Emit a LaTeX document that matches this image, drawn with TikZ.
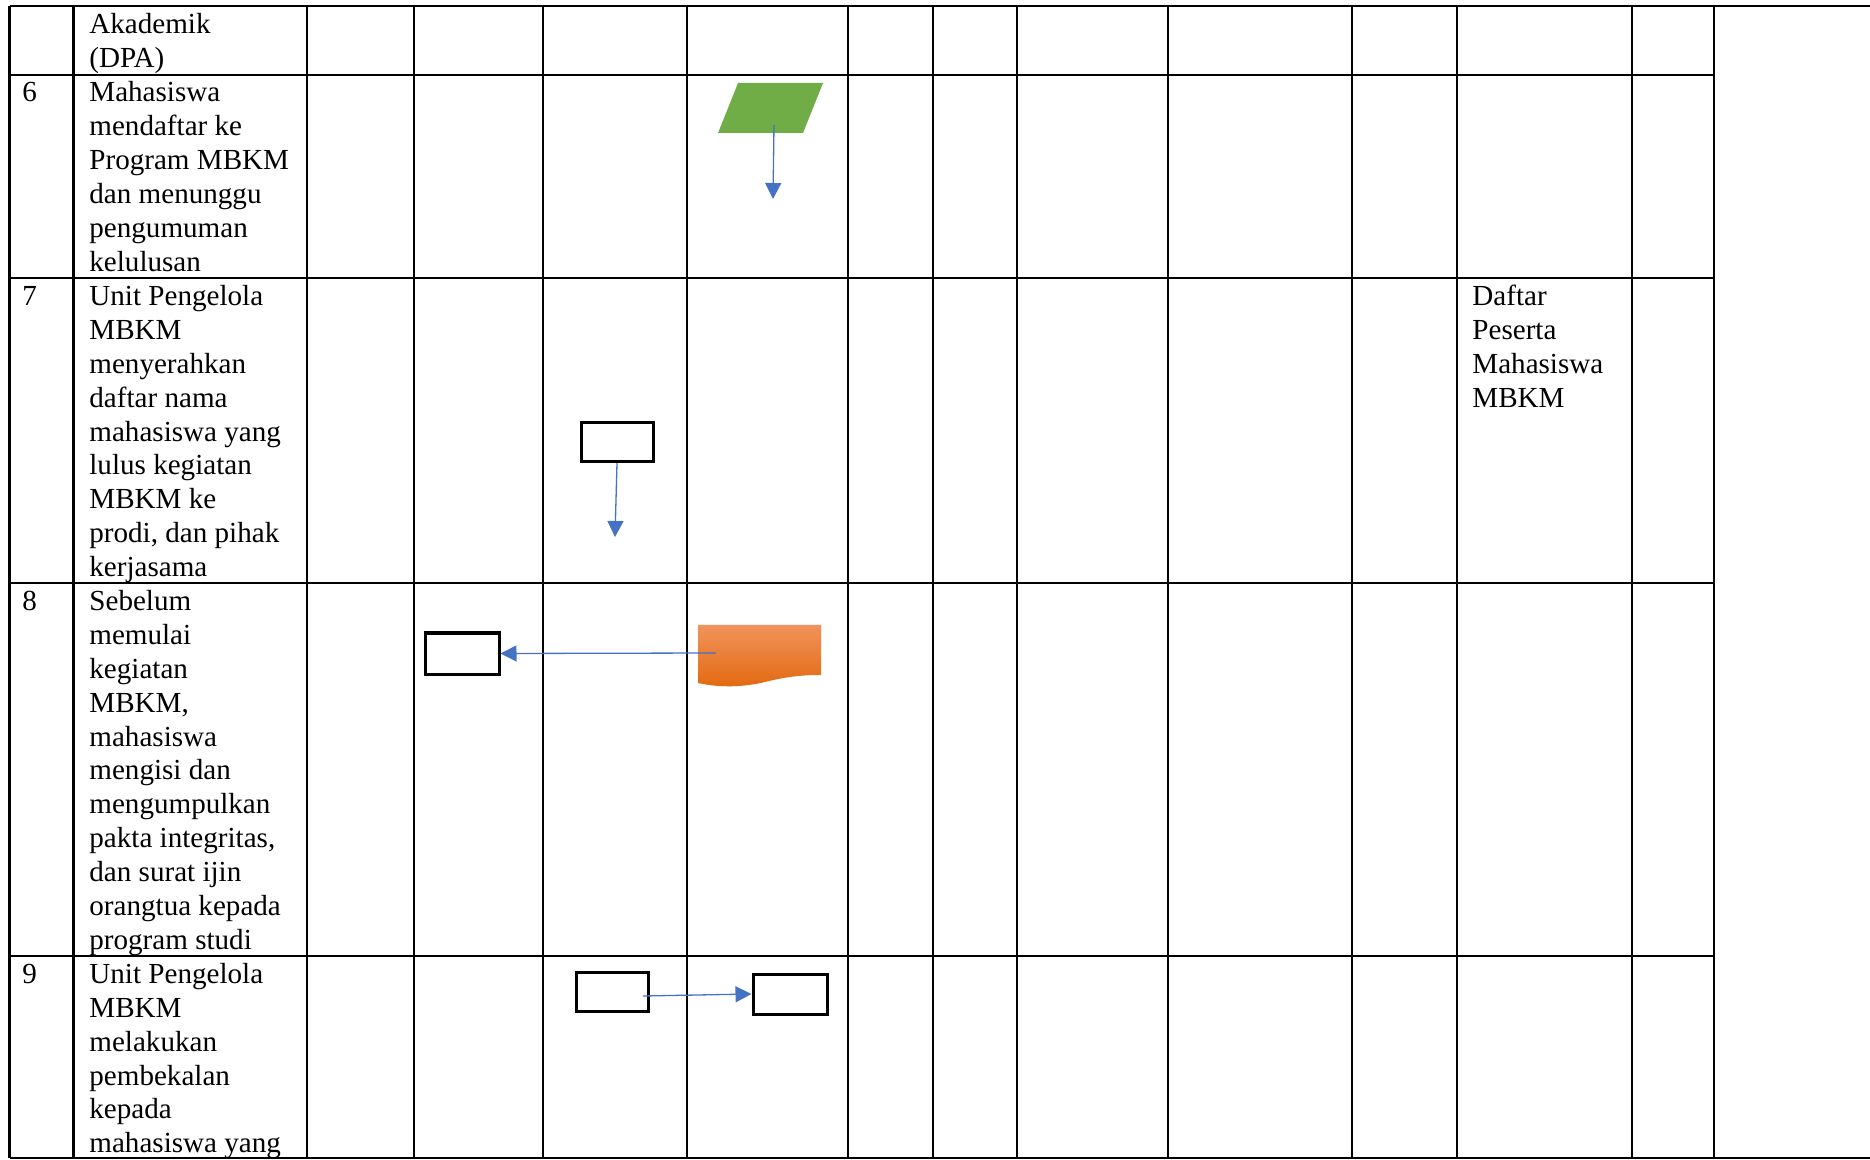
\documentclass[tikz,border=0pt]{standalone}
\usepackage{fontspec}
\setmainfont{Liberation Serif}
\usetikzlibrary{arrows.meta,positioning}
\definecolor{flowblue}{HTML}{4472C4}
\definecolor{inputgreen}{HTML}{70AD47}
\definecolor{doctop}{HTML}{F1935C}
\definecolor{docbottom}{HTML}{E2690F}
\tikzset{
    grid line/.style={
        line width=1.35pt,
        black
    },
    % the base of a multi-line node is its last line
    cell text/.style={
        anchor=base west,
        inner sep=0pt,
        align=left,
        font=\fontsize{14.55}{16.93}\selectfont
    },
    process box/.style={
        draw=black,
        line width=1.5pt,
        inner sep=0pt,
        minimum width=36pt,
        minimum height=19.5pt
    },
    flow/.style={
        flowblue,
        line width=0.65pt,
        -{Triangle[length=8pt,width=8pt]}
    }
}
\begin{document}
\begin{tikzpicture}[x=0.5pt,y=-0.5pt]
    \useasboundingbox (0,0) rectangle (1870,1160);
    % table grid
    \foreach \x in {9.5,73.5,307,414,543,687,848,933,1017,1168,1352,1457,1632,1714}
        \draw[grid line] (\x,6) -- (\x,1158);
    \foreach \y in {75,278,583,956}
        \draw[grid line] (9.5,\y) -- (1714,\y);
    \draw[grid line] (9.5,6) -- (1870,6);
    \draw[grid line] (9.5,1158) -- (1870,1158);
    % row texts
    \node[cell text] (txt5) at (89,67.4) {Akademik\\(DPA)};
    \node[cell text] (no6) at (22,102) {6};
    \node[cell text] (txt6) at (89,271.3) {Mahasiswa\\mendaftar ke\\Program MBKM\\dan menunggu\\pengumuman\\kelulusan};
    \node[cell text] (no7) at (22,305.5) {7};
    \node[cell text] (txt7) at (89,576.5) {Unit Pengelola\\MBKM\\menyerahkan\\daftar nama\\mahasiswa yang\\lulus kegiatan\\MBKM ke\\prodi, dan pihak\\kerjasama};
    \node[cell text] (out7) at (1472,407.1) {Daftar\\Peserta\\Mahasiswa\\MBKM};
    \node[cell text] (no8) at (22,610.5) {8};
    \node[cell text] (txt8) at (89,949.2) {Sebelum\\memulai\\kegiatan\\MBKM,\\mahasiswa\\mengisi dan\\mengumpulkan\\pakta integritas,\\dan surat ijin\\orangtua kepada\\program studi};
    \node[cell text] (no9) at (22,983.5) {9};
    \node[cell text] (txt9) at (89,1152.8) {Unit Pengelola\\MBKM\\melakukan\\pembekalan\\kepada\\mahasiswa yang};
    % flow shapes
    \fill[inputgreen] (738,83) -- (823,83) -- (803,133) -- (718,133) -- cycle;
    \coordinate (input6) at (774,125);
    \coordinate (input6 end) at (773,199);
    \node[process box] (box7) at (617,442) {};
    \coordinate (box7 end) at (615,537);
    \shade[top color=doctop, bottom color=docbottom]
        (698,625) -- (821,625) -- (821,675)
        .. controls (800,675) and (785,677) .. (765,682)
        .. controls (745,687) and (720,688) .. (698,683) -- cycle;
    \coordinate (doc8) at (716,653);
    \node[process box, minimum width=37pt, minimum height=20.5pt] (box8) at (462,653.5) {};
    \node[process box] (box9a) at (612.5,991.5) {};
    \coordinate (box9a out) at (643,996);
    \node[process box, minimum width=37pt, minimum height=20pt] (box9b) at (790,994) {};
    % connectors
    \draw[flow] (input6) -- (input6 end);
    \draw[flow] (box7.south) -- (box7 end);
    \draw[flow] (doc8) -- (box8.east);
    \draw[flow] (box9a out) -- (box9b.west);
\end{tikzpicture}
\end{document}
